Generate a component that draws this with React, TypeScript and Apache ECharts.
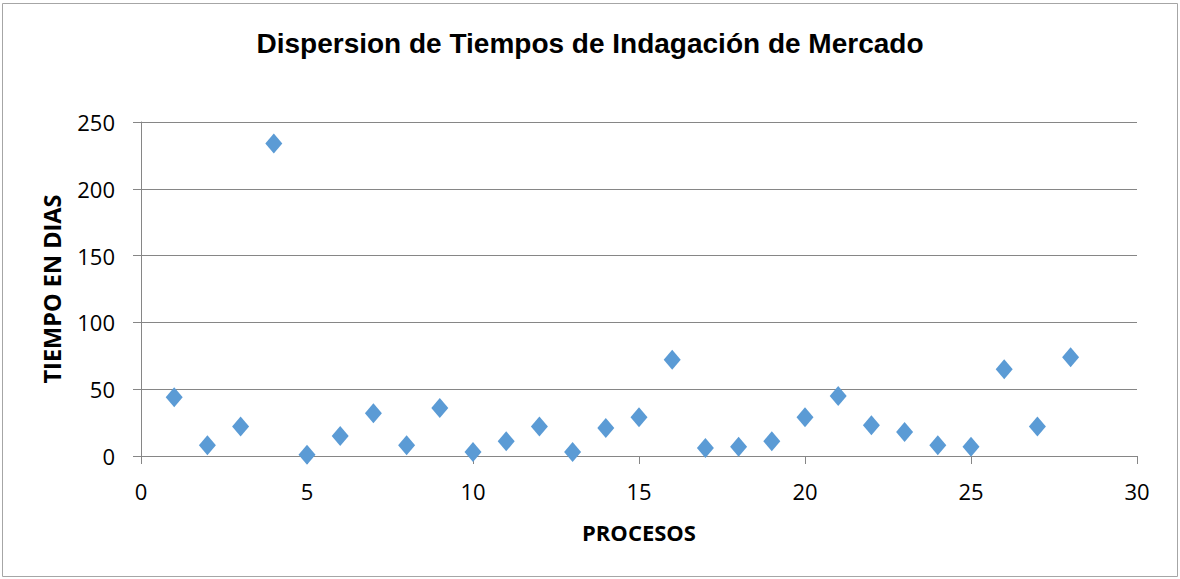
import React, { useEffect, useRef } from "react";
import * as echarts from "echarts";

const title = "Dispersion de Tiempos de Indagación de Mercado";
const xName = "PROCESOS";
const yName = "TIEMPO EN DIAS";
const procesos = [1, 2, 3, 4, 5, 6, 7, 8, 9, 10, 11, 12, 13, 14, 15, 16, 17, 18, 19, 20, 21, 22, 23, 24, 25, 26, 27, 28];
const tiempos = [44, 8, 22, 234, 1, 15, 32, 8, 36, 3, 11, 22, 3, 21, 29, 72, 6, 7, 11, 29, 45, 23, 18, 8, 7, 65, 22, 74];

export default function App() {
  const ref = useRef<HTMLDivElement>(null);
  useEffect(() => {
    if (!ref.current) return;
    const chart = echarts.init(ref.current, null, { renderer: "svg" });
    const labelFont = "'Open Sans', 'Noto Sans', sans-serif";
    chart.setOption({
      animation: false,
      backgroundColor: "#ffffff",
      title: {
        text: title,
        left: "center",
        top: 24,
        textStyle: { fontFamily: "'Liberation Sans', Arial, sans-serif", fontWeight: "bold", fontSize: 28, color: "#000" },
      },
      graphic: [
        {
          type: "rect",
          shape: { x: 2.5, y: 3.5, width: 1175, height: 573 },
          style: { fill: "none", stroke: "#a6a6a6", lineWidth: 1 },
          silent: true,
        },
      ],
      grid: { left: 141, right: 43, top: 122, bottom: 123, containLabel: false },
      xAxis: {
        type: "value",
        min: 0,
        max: 30,
        interval: 5,
        name: xName,
        nameLocation: "middle",
        nameGap: 65,
        nameTextStyle: { fontFamily: labelFont, fontWeight: "bold", fontSize: 22, color: "#000" },
        axisLine: { show: true, lineStyle: { color: "#868686", width: 1 } },
        axisTick: { show: true, length: 8, lineStyle: { color: "#868686" } },
        axisLabel: { fontFamily: labelFont, fontSize: 22, color: "#000", margin: 24 },
        splitLine: { show: false },
      },
      yAxis: {
        type: "value",
        min: 0,
        max: 250,
        interval: 50,
        name: yName,
        nameLocation: "middle",
        nameGap: 77,
        nameRotate: 90,
        nameTextStyle: { fontFamily: labelFont, fontWeight: "bold", fontSize: 23.5, color: "#000" },
        axisLine: { show: true, lineStyle: { color: "#868686", width: 1 } },
        axisTick: { show: true, length: 8, lineStyle: { color: "#868686" } },
        axisLabel: { fontFamily: labelFont, fontSize: 22, color: "#000", margin: 26 },
        splitLine: { show: true, lineStyle: { color: "#868686", width: 1 } },
      },
      series: [
        {
          type: "scatter",
          data: procesos.map((p, i) => [p, tiempos[i]]),
          symbol: "diamond",
          symbolSize: [17, 20],
          itemStyle: { color: "#5b9bd5", opacity: 1 },
        },
      ],
    });
    return () => chart.dispose();
  }, []);
  return <div ref={ref} style={{ position: "fixed", left: 0, top: 0, width: 1180, height: 579 }} />;
}
